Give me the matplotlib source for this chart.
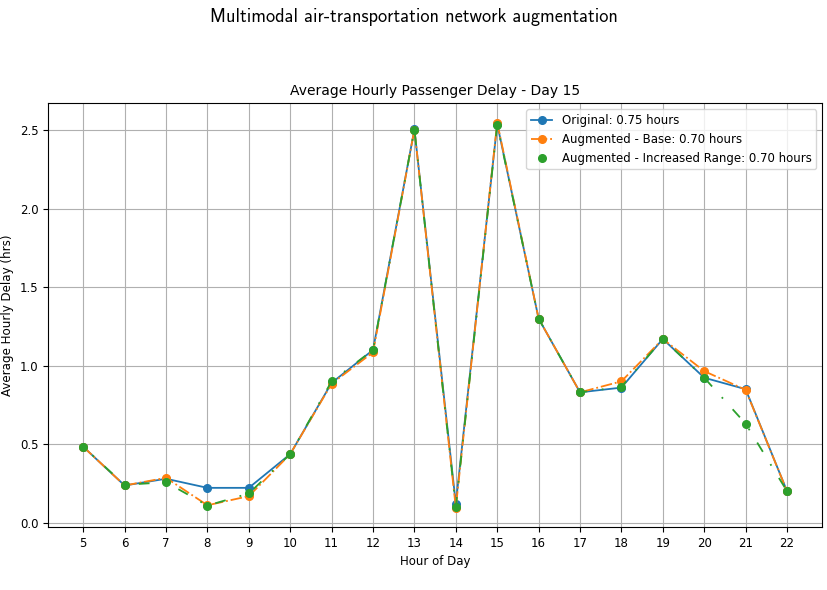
import matplotlib
matplotlib.use("Agg")
import matplotlib.pyplot as plt

hours = list(range(5, 23))

original = [0.483, 0.236, 0.279, 0.221, 0.221, 0.436, 0.89, 1.10, 2.506, 0.12,
            2.54, 1.30, 0.83, 0.86, 1.17, 0.923, 0.85, 0.20]
aug_base = [0.483, 0.236, 0.285, 0.11, 0.168, 0.436, 0.885, 1.085, 2.505, 0.095,
            2.55, 1.30, 0.83, 0.90, 1.17, 0.965, 0.846, 0.20]
aug_range = [0.483, 0.24, 0.257, 0.108, 0.185, 0.436, 0.90, 1.10, 2.505, 0.10,
             2.535, 1.30, 0.83, 0.865, 1.17, 0.923, 0.63, 0.20]

labels = ["Original: 0.75 hours",
          "Augmented - Base: 0.70 hours",
          "Augmented - Increased Range: 0.70 hours"]

fig = plt.figure(figsize=(8.28, 5.9), dpi=100)
ax = fig.add_axes([0.058, 0.107, 0.935, 0.718])

ax.plot(hours, original, "-o", color="#1f77b4", lw=1.3, ms=5.5, label=labels[0])
ax.plot(hours, aug_base, "-.o", color="#ff7f0e", lw=1.3, ms=5.5, label=labels[1])
ax.plot(hours, aug_range, marker="o", linestyle=(7, (6, 8, 1, 8)), color="#2ca02c",
        lw=1.3, ms=5.5, label=labels[2])

ax.set_xticks(hours)
ax.tick_params(labelsize=8.5)
ax.grid(True, color="#b0b0b0", lw=0.8)
ax.set_xlabel("Hour of Day", fontsize=8.5)
ax.set_ylabel("Average Hourly Delay (hrs)", fontsize=8.6)
ax.set_title("Average Hourly Passenger Delay - Day 15", fontsize=10)
ax.legend(loc="upper right", fontsize=8.5, handlelength=1.8)

fig.suptitle("Multimodal air-transportation network augmentation",
             fontfamily="cmss10", fontsize=13.2, y=0.987)

fig.savefig("out.png", dpi=100)
